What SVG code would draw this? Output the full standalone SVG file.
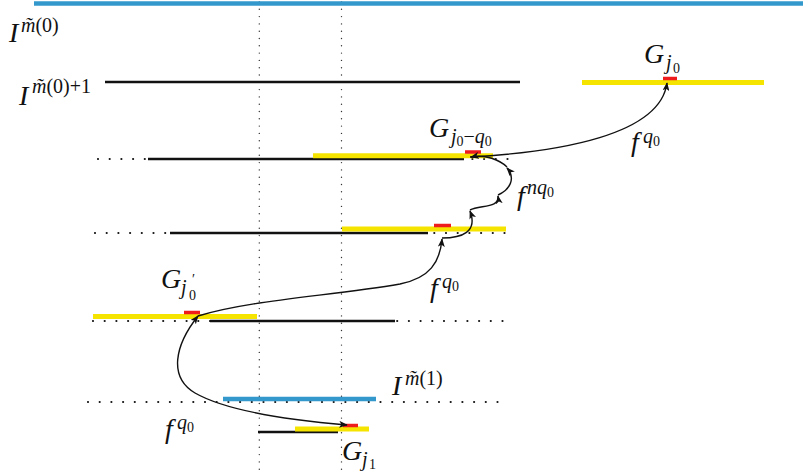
<svg xmlns="http://www.w3.org/2000/svg" width="803" height="476" viewBox="0 0 803 476">
<style>
.blue{stroke:#3399cc;stroke-width:4.5;fill:none}
.blk{stroke:#111;stroke-width:2.4;fill:none}
.yel{stroke:#f5e300;stroke-width:5;fill:none}
.red{stroke:#ee1c1c;stroke-width:3.5;fill:none}
.hdot{stroke:#111;stroke-width:2.2;stroke-linecap:round;stroke-dasharray:0 11.7;fill:none}
.vdot{stroke:#333;stroke-width:1.4;stroke-linecap:round;stroke-dasharray:0 7.3;fill:none}
.cur{stroke:#111;stroke-width:1.4;fill:none}
text{font-family:"Liberation Serif","DejaVu Serif",serif;fill:#111}
.m{font-size:28px;font-style:italic}
.s{font-size:20px}
.ss{font-size:14px}
.it{font-style:italic}
</style>
<defs>
<marker id="ah" viewBox="0 0 10 8" refX="9" refY="4" markerWidth="9" markerHeight="7" markerUnits="userSpaceOnUse" orient="auto-start-reverse">
<path d="M0,0 L10,4 L0,8 L2.5,4 z" fill="#111"/>
</marker>
</defs>

<g id="guides">
<line class="vdot" x1="259.3" y1="2" x2="259.3" y2="476"/>
<line class="vdot" x1="341.5" y1="2" x2="341.5" y2="476"/>
</g>

<g id="level0">
<line class="blue" x1="34" y1="3.5" x2="803" y2="3.5"/>
<text class="m" x="9" y="42">I</text>
<text class="s" x="21" y="32"><tspan class="it">m̃</tspan>(0)</text>
</g>

<g id="level1">
<line class="blk" x1="105" y1="82" x2="520" y2="82"/>
<text class="m" x="19" y="105">I</text>
<text class="s" x="32" y="93"><tspan class="it">m̃</tspan>(0)+1</text>
</g>

<g id="Gj0">
<line class="yel" x1="582" y1="82.5" x2="764" y2="82.5"/>
<line class="red" x1="663" y1="78.5" x2="677" y2="78.5"/>
<text class="m" x="644" y="63">G</text>
<text class="s it" x="666" y="69">j</text>
<text class="ss" x="673" y="73">0</text>
</g>

<g id="row2">
<line class="hdot" x1="98" y1="159" x2="510" y2="159"/>
<line class="blk" x1="148" y1="159" x2="464" y2="159"/>
<line class="yel" x1="313" y1="155.7" x2="493" y2="155.7"/>
<line class="red" x1="465" y1="152" x2="481" y2="152"/>
<text class="m" x="429" y="137">G</text>
<text x="451" y="143"><tspan class="s it">j</tspan><tspan class="ss" dy="3">0</tspan><tspan class="s" dy="-3">−</tspan><tspan class="s it">q</tspan><tspan class="ss" dy="3">0</tspan></text>
</g>

<g id="row3">
<line class="hdot" x1="95" y1="233" x2="505" y2="233"/>
<line class="blk" x1="170" y1="233" x2="428" y2="233"/>
<line class="yel" x1="342" y1="229" x2="506" y2="229"/>
<line class="red" x1="434" y1="225.5" x2="451" y2="225.5"/>
</g>

<g id="row4">
<line class="hdot" x1="93" y1="321" x2="505" y2="321"/>
<line class="yel" x1="93" y1="316.5" x2="257" y2="316.5"/>
<line class="blk" x1="210" y1="321" x2="395" y2="321"/>
<line class="red" x1="184" y1="312.5" x2="200" y2="312.5"/>
<text class="m" x="161" y="288">G</text>
<text class="s it" x="181" y="294">j</text>
<text class="ss" x="192" y="284">′</text>
<text class="ss" x="189" y="300">0</text>
</g>

<g id="row5">
<line class="hdot" x1="88" y1="402" x2="500" y2="402"/>
<line class="blue" x1="223" y1="399" x2="376" y2="399"/>
<text class="m" x="392" y="395">I</text>
<text class="s" x="405" y="385"><tspan class="it">m̃</tspan>(1)</text>
</g>

<g id="Gj1">
<line class="blk" x1="258" y1="432" x2="338" y2="432"/>
<line class="yel" x1="295" y1="429" x2="369" y2="429"/>
<line class="red" x1="343" y1="425.5" x2="358" y2="425.5"/>
<text class="m" x="342" y="460">G</text>
<text class="s it" x="362" y="466">j</text>
<text class="ss" x="369" y="469">1</text>
</g>

<g id="connectors">
<path class="cur" d="M470,157 C560,152 660,135 667,83" marker-end="url(#ah)"/>
<path class="cur" d="M507,167 C500,160 485,154 471,157" marker-end="url(#ah)"/>
<path class="cur" d="M498,195 C510,190 516,178 507,168" marker-end="url(#ah)"/>
<path class="cur" d="M470,210 C480,205 500,208 498,196" marker-end="url(#ah)"/>
<path class="cur" d="M442,238 C462,238 478,232 470,211" marker-end="url(#ah)"/>
<path class="cur" d="M198,316 C250,300 330,296 400,284 C430,278 440,262 442,239" marker-end="url(#ah)"/>
<path class="cur" d="M198,316 C175,345 168,377 195,393 C230,413 300,421 347,425" marker-start="url(#ah)" marker-end="url(#ah)"/>
</g>

<g id="labels">
<text class="m" x="517" y="205">f</text>
<text x="527" y="194"><tspan class="s it">nq</tspan><tspan class="ss" dy="3">0</tspan></text>
<text class="m" x="631" y="151">f</text>
<text x="643" y="143"><tspan class="s it">q</tspan><tspan class="ss" dy="3">0</tspan></text>
<text class="m" x="430" y="297">f</text>
<text x="442" y="288"><tspan class="s it">q</tspan><tspan class="ss" dy="3">0</tspan></text>
<text class="m" x="165" y="438">f</text>
<text x="177" y="429"><tspan class="s it">q</tspan><tspan class="ss" dy="3">0</tspan></text>
</g>
</svg>
